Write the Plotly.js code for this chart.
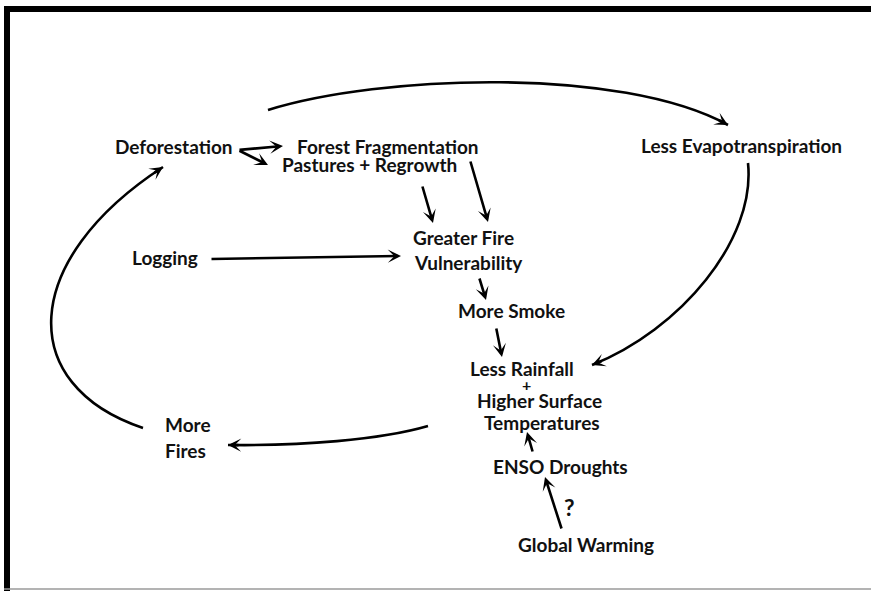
<!DOCTYPE html>
<html>
<head>
<meta charset="utf-8">
<script src="https://cdn.plot.ly/plotly-3.0.1.min.js"></script>
<style>html,body{margin:0;padding:0;background:#fff;}#chart{width:871px;height:591px;}</style>
</head>
<body>
<div id="chart"></div>
<script>
// ---- diagram content (labels) ----
const nodeLabels = ["Deforestation", "Forest Fragmentation", "Pastures + Regrowth",
  "Less Evapotranspiration", "Logging", "Greater Fire", "Vulnerability", "More Smoke",
  "Less Rainfall", "+", "Higher Surface", "Temperatures", "More", "Fires",
  "ENSO Droughts", "?", "Global Warming"];
// links between concepts (from -> to), straight arrows
const straightLinks = [
  ["Deforestation", "Forest Fragmentation"],
  ["Deforestation", "Pastures + Regrowth"],
  ["Pastures + Regrowth", "Greater Fire"],
  ["Forest Fragmentation", "Greater Fire"],
  ["Logging", "Greater Fire"],
  ["Vulnerability", "More Smoke"],
  ["More Smoke", "Less Rainfall"],
  ["ENSO Droughts", "Temperatures"],
  ["Global Warming", "ENSO Droughts"]
];
const curvedLinks = [
  ["Deforestation", "Less Evapotranspiration"],
  ["Less Evapotranspiration", "Less Rainfall"],
  ["Temperatures", "More Fires"],
  ["More Fires", "Deforestation"]
];

// ---- layout geometry (page pixels) ----
const pos = {
  "Deforestation": [115, 145], "Forest Fragmentation": [297, 145],
  "Pastures + Regrowth": [282, 163], "Less Evapotranspiration": [641, 144],
  "Logging": [132, 256], "Greater Fire": [413, 236], "Vulnerability": [414, 261],
  "More Smoke": [458, 309], "Less Rainfall": [470, 367], "+": [526, 383],
  "Higher Surface": [477, 399], "Temperatures": [484, 421], "More": [165, 423],
  "Fires": [165, 449], "ENSO Droughts": [493, 465], "?": [569, 506],
  "Global Warming": [518, 543]
};
const straightGeom = [
  [[238,150],[283,146]], [[238,150],[268,165]], [[422,185],[433,223]],
  [[470,160],[488,222]], [[210,259],[401,256]], [[479,277],[486,300]],
  [[496,327],[502,357]], [[533,453],[527,432]], [[562,530],[545,477]]
];
const curvedGeom = [
  [[268,110],[380,75],[620,66],[728,125]],
  [[748,163],[756,240],[680,330],[592,365]],
  [[428,426],[380,440],[300,446],[228,445]],
  [[143,428],[15,385],[20,260],[163,167]]
];

const FONT = {family: "Lato, 'Open Sans', sans-serif", size: 19, color: "#111", weight: 700};
const LW = 2.6;

const annotations = nodeLabels.map(l => {
  const a = {
    text: l, x: pos[l][0], y: pos[l][1] + 1, xref: "x", yref: "y",
    xanchor: l === "+" || l === "?" ? "center" : "left", yanchor: "middle", showarrow: false,
    borderpad: 0, borderwidth: 0, font: FONT
  };
  if (l === "?") a.font = Object.assign({}, FONT, {size: 23});
  if (l === "+") a.font = Object.assign({}, FONT, {size: 16});
  return a;
});

function arrowAnn(from, to) {
  return {x: to[0], y: to[1], ax: from[0], ay: from[1], xref: "x", yref: "y",
    axref: "x", ayref: "y", text: "", showarrow: true, arrowhead: 3,
    arrowsize: 0.85, arrowwidth: LW, arrowcolor: "#000", standoff: 0, startstandoff: 0};
}
straightLinks.forEach((lnk, i) => annotations.push(arrowAnn(straightGeom[i][0], straightGeom[i][1])));

const shapes = [];
curvedLinks.forEach((lnk, i) => {
  const [p0, c1, c2, p3] = curvedGeom[i];
  shapes.push({type: "path", xref: "x", yref: "y",
    path: `M${p0[0]},${p0[1]} C${c1[0]},${c1[1]} ${c2[0]},${c2[1]} ${p3[0]},${p3[1]}`,
    line: {color: "#000", width: LW}});
  const dx = p3[0] - c2[0], dy = p3[1] - c2[1], d = Math.hypot(dx, dy);
  annotations.push(arrowAnn([p3[0] - dx / d * 12, p3[1] - dy / d * 12], p3));
});

// frame
shapes.push({type: "rect", xref: "x", yref: "y", x0: 4, x1: 871, y0: 6, y1: 12,
  fillcolor: "#000", line: {width: 0}});
shapes.push({type: "rect", xref: "x", yref: "y", x0: 4, x1: 10, y0: 6, y1: 591,
  fillcolor: "#000", line: {width: 0}});
shapes.push({type: "line", xref: "x", yref: "y", x0: 4, x1: 871, y0: 589, y1: 589,
  line: {color: "#9a9a9a", width: 1.5}});

const layout = {
  width: 871, height: 591, margin: {l: 0, r: 0, t: 0, b: 0},
  paper_bgcolor: "#fff", plot_bgcolor: "#fff", showlegend: false,
  xaxis: {range: [0, 871], visible: false, fixedrange: true},
  yaxis: {range: [591, 0], visible: false, fixedrange: true},
  annotations: annotations, shapes: shapes
};
Plotly.newPlot("chart", [{x: [], y: [], type: "scatter"}], layout, {staticPlot: true});
</script>
</body>
</html>
